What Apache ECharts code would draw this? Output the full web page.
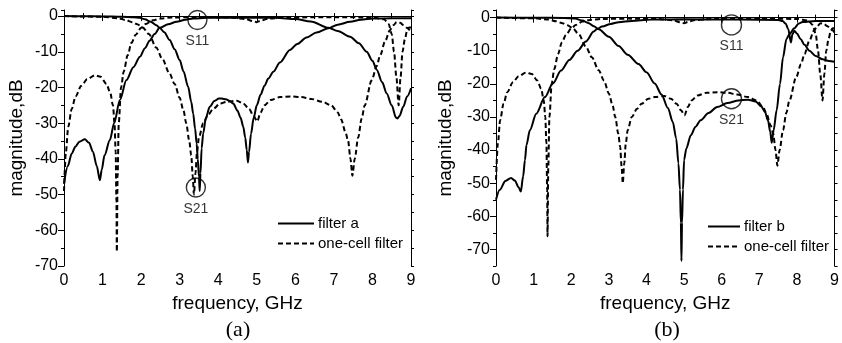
<!DOCTYPE html>
<html>
<head>
<meta charset="utf-8">
<script src="https://cdn.jsdelivr.net/npm/echarts@6/dist/echarts.min.js"></script>
<style>
  html, body { margin: 0; padding: 0; background: #fff; }
  #chart { width: 842px; height: 343px; }
</style>
</head>
<body>
<div id="chart"></div>
<script>
  // frequency (GHz) / magnitude (dB) pairs
  var oneCellS11 = [[0,-49],[0.05,-38],[0.11,-31],[0.2,-26],[0.3,-22.5],[0.45,-19.5],[0.6,-17.7],[0.8,-16.6],
    [0.95,-17],[1.1,-19],[1.2,-21.5],[1.27,-25],[1.31,-30],[1.34,-38],[1.36,-52],[1.37,-66],[1.39,-45],
    [1.42,-30],[1.48,-20],[1.55,-15.5],[1.65,-11],[1.75,-7.5],[1.86,-5.2],[2.0,-3.3],[2.12,-2.2],[2.3,-1.2],
    [2.5,-0.7],[2.8,-0.4],[3.5,-0.3],[4.3,-0.4],[4.7,-0.8],[4.9,-1.4],[5.0,-1.7],[5.1,-1.3],[5.3,-0.7],
    [5.8,-0.4],[7,-0.3],[8.0,-0.4],[8.3,-0.9],[8.42,-2.2],[8.5,-5],[8.56,-10],[8.62,-17],[8.68,-25],
    [8.73,-17],[8.78,-10],[8.84,-6.5],[8.9,-4],[8.95,-3.2],[9,-3.2]];
  var oneCellS21 = [[0,0],[1,-0.2],[1.4,-0.6],[1.6,-1.1],[1.77,-1.7],[1.9,-2.3],[2.04,-3.2],[2.2,-5],
    [2.39,-8.8],[2.55,-12],[2.73,-15.9],[2.87,-19],[3.0,-22.9],[3.1,-26.5],[3.17,-30],[3.25,-35],[3.3,-39],
    [3.34,-45],[3.37,-50],[3.41,-44],[3.45,-38],[3.5,-34],[3.61,-30],[3.75,-27.5],[3.87,-26],[4.05,-24.5],
    [4.22,-24],[4.48,-23.7],[4.65,-24.5],[4.8,-26],[4.92,-28],[5.01,-29.5],[5.1,-27],[5.2,-25],[5.36,-23.5],
    [5.6,-22.7],[5.88,-22.5],[6.15,-22.7],[6.41,-23.2],[6.7,-24],[6.93,-25],[7.1,-27],[7.19,-29],[7.3,-32.5],
    [7.37,-35],[7.43,-40],[7.48,-44.7],[7.54,-40],[7.63,-34],[7.72,-28.7],[7.8,-25],[7.98,-18],[8.11,-14],
    [8.2,-11],[8.33,-7],[8.45,-4],[8.54,-2.6],[8.63,-1.7],[8.72,-1.9],[8.8,-2.5],[8.9,-3.3],[9,-4.5]];

  var filterAS21 = [[0,0],[0.5,-0.05],[1,-0.1],[1.5,-0.2],[1.8,-0.3],[1.97,-0.5],[2.1,-0.9],[2.25,-1.6],
    [2.4,-2.6],[2.48,-3.3],[2.6,-4.5],[2.74,-6.7],[2.87,-9.3],[3.0,-12.3],[3.1,-15.5],[3.22,-19.8],[3.3,-24],
    [3.35,-27.3],[3.4,-31.5],[3.44,-35.7],[3.47,-40],[3.5,-45],[3.52,-49],[3.54,-44],[3.57,-37],[3.61,-32.9],
    [3.68,-28.5],[3.78,-25.4],[3.9,-23.8],[4.02,-23.1],[4.09,-23.1],[4.2,-23.3],[4.3,-23.8],[4.39,-24.5],
    [4.5,-26.5],[4.58,-28.5],[4.65,-31],[4.7,-34],[4.74,-37.5],[4.77,-41],[4.8,-38],[4.85,-33],[4.92,-28.5],
    [5.0,-25],[5.1,-22],[5.2,-19.5],[5.3,-17.5],[5.43,-15.6],[5.6,-13],[5.86,-9.5],[6.05,-7.8],[6.29,-6.0],
    [6.55,-4.6],[6.86,-3.4],[7.1,-2.4],[7.42,-1.6],[7.7,-1.0],[8.02,-0.7],[8.5,-0.6],[9,-0.6]];
  var filterAS11 = [[0,-47],[0.1,-42],[0.2,-38.5],[0.3,-36.5],[0.4,-35.2],[0.54,-34.5],[0.65,-35.5],
    [0.75,-38],[0.85,-42],[0.93,-46],[0.98,-43],[1.05,-39],[1.19,-34.7],[1.3,-30],[1.45,-23.5],[1.62,-17.9],
    [1.8,-14.3],[1.97,-11.4],[2.1,-9],[2.22,-6.9],[2.35,-5],[2.48,-3.3],[2.7,-2.3],[2.92,-1.6],[3.15,-1.0],
    [3.35,-0.7],[3.7,-0.5],[4.5,-0.45],[5.5,-0.5],[6.0,-0.8],[6.4,-1.5],[6.86,-3.3],[7.1,-4.2],[7.42,-5.8],
    [7.65,-7.6],[7.85,-10],[8.0,-12.5],[8.11,-15],[8.25,-18.5],[8.37,-21.7],[8.5,-25],[8.61,-28.4],
    [8.65,-28.7],[8.7,-28],[8.8,-25.4],[8.9,-22.5],[9.0,-20.2]];

  var filterBS21 = [[0,0],[1.0,-0.05],[1.8,-0.1],[2.1,-0.3],[2.3,-0.9],[2.45,-1.6],[2.6,-2.6],[2.73,-3.5],
    [3.0,-5.8],[3.26,-8.6],[3.5,-11.2],[3.79,-14],[4.0,-16.5],[4.22,-19.9],[4.4,-23.2],[4.57,-27.3],[4.7,-31.5],
    [4.79,-36.5],[4.85,-44],[4.89,-52],[4.915,-62],[4.93,-73.5],[4.945,-62],[4.97,-52],[5.0,-43],[5.06,-39.5],
    [5.18,-35.5],[5.3,-33],[5.44,-31],[5.65,-28.8],[5.88,-27],[6.15,-25.8],[6.45,-25],[6.7,-24.8],[6.9,-25.3],
    [7.05,-26.8],[7.15,-28.5],[7.23,-31],[7.29,-34.5],[7.33,-37.8],[7.38,-34],[7.46,-28],[7.55,-20],
    [7.63,-12],[7.72,-6.5],[7.8,-5],[7.93,-3.2],[8.05,-1.8],[8.15,-1.3],[8.5,-1],[9,-1]];
  var filterBS11 = [[0,-55],[0.1,-52],[0.25,-49.3],[0.4,-48.4],[0.5,-49.2],[0.6,-51.2],[0.66,-52.5],
    [0.72,-48],[0.77,-43],[0.81,-38.5],[0.9,-34],[1.07,-29],[1.3,-24],[1.51,-19.9],[1.73,-16],[1.95,-12.8],
    [2.17,-10],[2.39,-7.2],[2.6,-4.2],[2.69,-3.4],[2.82,-2.7],[3.05,-1.9],[3.26,-1.4],[3.6,-1.0],[4.13,-0.6],
    [5,-0.5],[6.5,-0.6],[7.5,-0.7],[7.62,-1.0],[7.7,-1.8],[7.77,-3.5],[7.84,-7.5],[7.88,-5],[7.93,-4],
    [8.0,-4.8],[8.1,-6.5],[8.2,-8.2],[8.33,-10],[8.5,-11.6],[8.68,-12.6],[8.85,-13.1],[9,-13.3]];

  var markersA = [{ name: 'S11', value: [3.46, -1.1] }, { name: 'S21', value: [3.42, -48] }];
  var markersB = [{ name: 'S11', value: [6.26, -2.2] }, { name: 'S21', value: [6.26, -24.5] }];

  var xTicks = [0, 9, 1];
  var yRangeA = [-70, 1.7];
  var yRangeB = [-75, 2.3];
  var yMajorTicks = [-70, -60, -50, -40, -30, -20, -10, 0];
  var panelLabels = ['(a)', '(b)'];
  var legendA = ['filter a', 'one-cell filter'];
  var legendB = ['filter b', 'one-cell filter'];

  var FONT = '"Liberation Sans", Arial, Helvetica, sans-serif';
  var BLACK = '#000';

  function xAxes(gi) {
    var base = {
      gridIndex: gi, type: 'value', min: xTicks[0], max: xTicks[1], interval: xTicks[2],
      splitLine: { show: false },
      axisLine: { lineStyle: { color: BLACK, width: 1 } },
      minorTick: { show: true, splitNumber: 2, length: 3, lineStyle: { color: BLACK } }
    };
    var bottom = echarts.util.merge({
      position: 'bottom',
      axisTick: { length: 5, lineStyle: { color: BLACK } },
      axisLabel: { fontSize: 16, color: BLACK, fontFamily: FONT, margin: 7 },
      name: 'frequency, GHz', nameLocation: 'middle', nameGap: 24,
      nameTextStyle: { fontSize: 19, color: BLACK, fontFamily: FONT }
    }, base, true);
    var top = echarts.util.merge({
      position: 'top',
      axisTick: { length: 3, lineStyle: { color: BLACK } },
      axisLabel: { show: false }
    }, base, true);
    return [bottom, top];
  }

  function yAxes(gi, range, nameGap) {
    var base = {
      gridIndex: gi, type: 'value', min: range[0], max: range[1],
      splitLine: { show: false }
    };
    var left = echarts.util.merge({
      position: 'left', interval: 5,
      axisLine: { lineStyle: { color: BLACK, width: 1 } },
      axisTick: { length: 3, lineStyle: { color: BLACK } },
      axisLabel: {
        fontSize: 16, color: BLACK, fontFamily: FONT, margin: 6,
        formatter: function (v) { return v % 10 === 0 ? String(v) : ''; }
      },
      name: 'magnitude,dB', nameLocation: 'middle', nameGap: nameGap,
      nameTextStyle: { fontSize: 19, color: BLACK, fontFamily: FONT }
    }, base, true);
    var major = echarts.util.merge({
      position: 'left',
      axisLine: { show: false },
      axisTick: { show: true, customValues: yMajorTicks, length: 6, lineStyle: { color: BLACK } },
      axisLabel: { show: false }
    }, base, true);
    var right = echarts.util.merge({
      position: 'right', interval: 5,
      axisLine: { show: true, lineStyle: { color: BLACK, width: 1 } },
      axisTick: { show: true, length: 3, lineStyle: { color: BLACK } },
      axisLabel: { show: false }
    }, base, true);
    return [left, major, right];
  }

  function lineSeries(name, data, xi, yi, dashed) {
    return {
      type: 'line', name: name, data: data, xAxisIndex: xi, yAxisIndex: yi,
      symbol: 'none', showSymbol: false, smooth: 0.3, smoothMonotone: 'x', animation: false,
      itemStyle: { color: BLACK },
      lineStyle: { color: BLACK, width: 2, type: dashed ? [5, 3] : 'solid' }
    };
  }

  function markerSeries(data, xi, yi, size) {
    return {
      type: 'scatter', name: 'markers', data: data, xAxisIndex: xi, yAxisIndex: yi,
      symbol: 'circle', symbolSize: size, animation: false, silent: true,
      itemStyle: { color: 'rgba(0,0,0,0)', borderColor: BLACK, borderWidth: 1.4 },
      label: {
        show: true, position: 'bottom', distance: 4, formatter: '{b}',
        fontSize: 14, color: BLACK, fontFamily: FONT
      }
    };
  }

  function legendFor(names, left, top, width) {
    return {
      data: names, orient: 'vertical', left: left, top: top,
      itemWidth: width, itemHeight: 14, itemGap: 5, selectedMode: false,
      itemStyle: { opacity: 0 },
      lineStyle: { width: 2 },
      textStyle: { fontSize: 15, color: BLACK, fontFamily: FONT, padding: [0, 0, 0, -1] }
    };
  }

  var chart = echarts.init(document.getElementById('chart'), null, { renderer: 'canvas' });

  chart.setOption({
    backgroundColor: '#fff',
    animation: false,
    grid: [
      { left: 64, right: 431, top: 10, bottom: 77 },
      { left: 496, right: 3, top: 10, bottom: 77 }
    ],
    xAxis: xAxes(0).concat(xAxes(1)),
    yAxis: yAxes(0, yRangeA, 38).concat(yAxes(1, yRangeB, 41)),
    legend: [
      legendFor(legendA, 272, 211, 36),
      legendFor(legendB, 702, 214, 32)
    ],
    graphic: [
      { type: 'text', x: 238, y: 330, style: { text: panelLabels[0], fill: BLACK,
        font: '22px "Liberation Serif", "Times New Roman", serif', align: 'center', verticalAlign: 'middle' } },
      { type: 'text', x: 667, y: 330, style: { text: panelLabels[1], fill: BLACK,
        font: '22px "Liberation Serif", "Times New Roman", serif', align: 'center', verticalAlign: 'middle' } }
    ],
    series: [
      lineSeries('filter a', filterAS21, 0, 0, false),
      lineSeries('filter a', filterAS11, 0, 0, false),
      lineSeries('one-cell filter', oneCellS11, 0, 0, true),
      lineSeries('one-cell filter', oneCellS21, 0, 0, true),
      markerSeries(markersA, 0, 0, 19),
      lineSeries('filter b', filterBS21, 2, 3, false),
      lineSeries('filter b', filterBS11, 2, 3, false),
      lineSeries('one-cell filter', oneCellS11, 2, 3, true),
      lineSeries('one-cell filter', oneCellS21, 2, 3, true),
      markerSeries(markersB, 2, 3, 20)
    ]
  });

  window.addEventListener('resize', function () {
    chart.resize();
  });
</script>
</body>
</html>
